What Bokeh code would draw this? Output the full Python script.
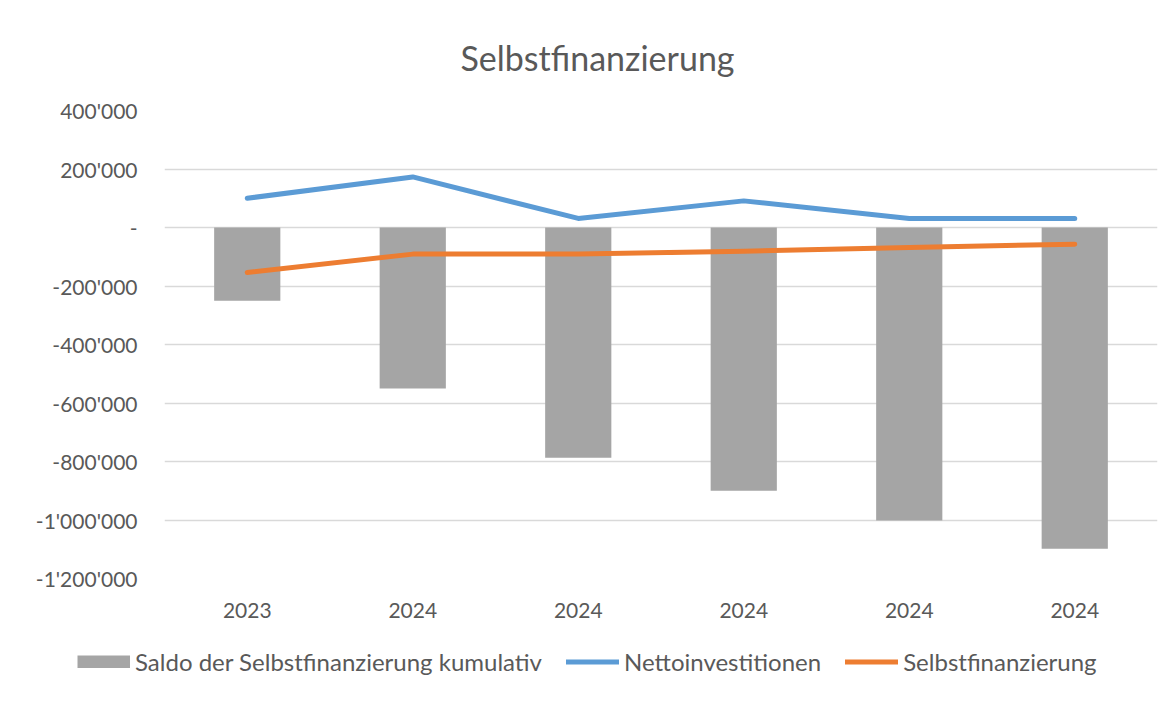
from bokeh.plotting import figure
from bokeh.models import FixedTicker, Legend, LegendItem
from bokeh.embed import file_html
from bokeh.resources import INLINE

# ---- data ----
categories = ["2023", "2024", "2024", "2024", "2024", "2024"]
saldo_kumulativ = [-250000, -550000, -787000, -900000, -1002000, -1098000]
nettoinvestitionen = [100000, 173000, 31000, 91000, 31000, 31000]
selbstfinanzierung = [-154000, -91000, -91000, -81000, -68000, -57000]
y_ticks = [-1200000, -1000000, -800000, -600000, -400000, -200000, 0, 200000, 400000]
y_tick_labels = ["-1'200'000", "-1'000'000", "-800'000", "-600'000", "-400'000",
                 "-200'000", "-", "200'000", "400'000"]
series_names = ["Saldo der Selbstfinanzierung kumulativ", "Nettoinvestitionen", "Selbstfinanzierung"]

x = list(range(len(categories)))
FONT = "Lato"
TXT = "#595959"
C_BAR, C_BLUE, C_ORANGE = "#a5a5a5", "#5b9bd5", "#ed7d31"


def draw_lines(fig):
    a = fig.line(x, nettoinvestitionen, line_color=C_BLUE, line_width=5,
                 line_cap="round", line_join="round")
    c = fig.line(x, selbstfinanzierung, line_color=C_ORANGE, line_width=5,
                 line_cap="round", line_join="round")
    return a, c


p = figure(width=1161, height=638, output_backend="svg", toolbar_location=None,
           x_range=(-0.5, len(categories) - 0.5), y_range=(-1200000, 400000),
           min_border_left=164, min_border_right=4, min_border_top=110,
           min_border_bottom=60)

p.title.text = "Selbstfinanzierung"
p.title.text_font = FONT
p.title.text_font_size = "34px"
p.title.text_font_style = "normal"
p.title.text_color = TXT
p.title.text_line_height = 1.0
p.title.align = "left"
p.title.offset = 296
p.title.standoff = 66

p.outline_line_color = None
p.background_fill_color = "white"
p.border_fill_color = "white"

# axes
p.xaxis.ticker = FixedTicker(ticks=x)
p.xaxis.major_label_overrides = {i: c for i, c in enumerate(categories)}
p.yaxis.ticker = FixedTicker(ticks=y_ticks)
p.yaxis.major_label_overrides = {t: l for t, l in zip(y_ticks, y_tick_labels)}
for ax in (p.xaxis, p.yaxis):
    ax.axis_line_color = None
    ax.major_tick_line_color = None
    ax.minor_tick_line_color = None
    ax.major_label_text_font = FONT
    ax.major_label_text_font_size = "21px"
    ax.major_label_text_color = TXT
p.yaxis.major_label_standoff = 21
p.xaxis.major_label_standoff = 18

p.xgrid.grid_line_color = None
p.ygrid.grid_line_color = "#d9d9d9"
p.ygrid.grid_line_width = 1.5

p.vbar(x=x, top=saldo_kumulativ, bottom=0, width=0.4, color=C_BAR, line_color=None)
draw_lines(p)

# ---- legend strip below the chart (same series, ranges chosen so no mark is in view) ----
lg = figure(width=1161, height=63, output_backend="svg", toolbar_location=None,
            x_range=(-0.5, len(categories) - 0.5), y_range=(5000000, 6000000), min_border=0)
lg.axis.visible = False
lg.grid.visible = False
lg.outline_line_color = None
lg.background_fill_color = "white"
lg.border_fill_color = "white"
rb = lg.line(x, saldo_kumulativ, line_color=C_BAR, line_width=13, line_cap="butt")
r1, r2 = draw_lines(lg)

legend = Legend(items=[
    LegendItem(label=series_names[0], renderers=[rb]),
    LegendItem(label=series_names[1], renderers=[r1]),
    LegendItem(label=series_names[2], renderers=[r2]),
], orientation="horizontal", location=(77, 25))
legend.label_text_font = FONT
legend.label_text_font_size = "24px"
legend.label_text_color = TXT
legend.glyph_width = 53
legend.glyph_height = 13
legend.label_standoff = 5
legend.spacing = 24
legend.padding = 0
legend.margin = 0
legend.border_line_color = None
legend.background_fill_alpha = 0
lg.add_layout(legend, "center")

open("out.html", "w").write(file_html([p, lg], INLINE))
